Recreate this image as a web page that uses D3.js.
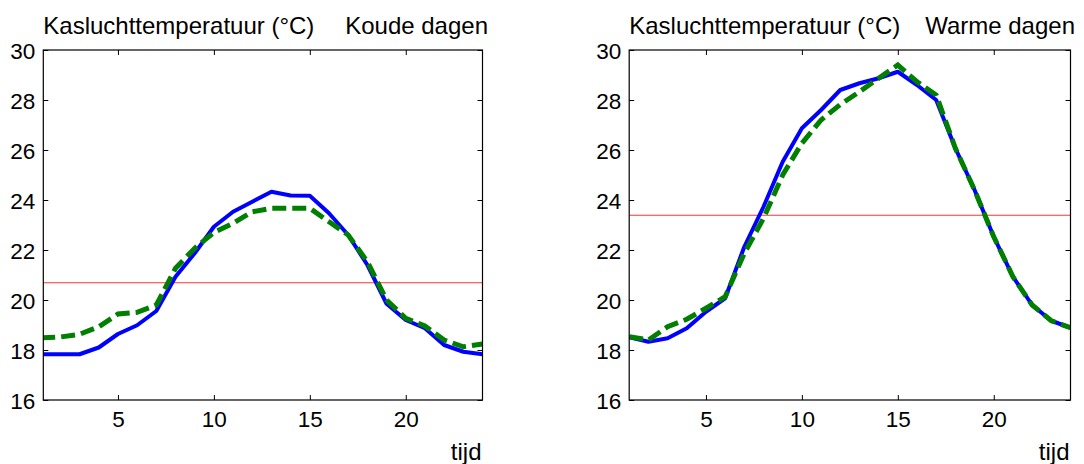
<!DOCTYPE html>
<html>
<head>
<meta charset="utf-8">
<script src="https://cdn.jsdelivr.net/npm/d3@7"></script>
<style>
  html, body { margin: 0; padding: 0; background: #fff; }
  svg text { font-family: "Liberation Sans", Arial, sans-serif; fill: #000; }
</style>
</head>
<body>
<svg id="chart" width="1084" height="464"></svg>
<script>
// ---- data ----
const hours = d3.range(1, 25);
const coldBlue  = [17.83, 17.83, 17.83, 18.1, 18.64, 18.99, 19.56, 20.93, 21.87, 22.93, 23.53, 23.93, 24.33, 24.18, 24.17, 23.47, 22.6, 21.4, 19.85, 19.2, 18.87, 18.2, 17.93, 17.83];
const coldGreen = [18.49, 18.52, 18.63, 18.93, 19.44, 19.51, 19.8, 21.27, 22.07, 22.7, 23.07, 23.53, 23.67, 23.67, 23.67, 23.13, 22.6, 21.53, 20.0, 19.27, 18.96, 18.4, 18.13, 18.24];
const coldRef = 20.69;
const warmBlue  = [18.51, 18.33, 18.47, 18.87, 19.53, 20.07, 22.13, 23.73, 25.53, 26.87, 27.6, 28.4, 28.67, 28.87, 29.13, 28.6, 28.0, 26.07, 24.4, 22.53, 20.93, 19.8, 19.17, 18.89];
const warmGreen = [18.53, 18.4, 18.93, 19.23, 19.67, 20.13, 21.87, 23.27, 25.0, 26.27, 27.2, 27.82, 28.33, 28.87, 29.4, 28.73, 28.2, 26.07, 24.4, 22.53, 20.93, 19.8, 19.17, 18.89];
const warmRef = 23.39;
const yTicks = [16, 18, 20, 22, 24, 26, 28, 30];
const xTicks = [5, 10, 15, 20];
const yTitle = "Kasluchttemperatuur (°C)";
const xTitle = "tijd";
const panelTitles = ["Koude dagen", "Warme dagen"];

const svg = d3.select("#chart");
svg.append("rect").attr("width", 1084).attr("height", 464).attr("fill", "#fff");

const panels = [
  { left: 43.3, right: 482.5, xDomain: [1.11, 24], blue: coldBlue, green: coldGreen, ref: coldRef, title: panelTitles[0], titleRight: 488 },
  { left: 629.2, right: 1070.5, xDomain: [1, 24], blue: warmBlue, green: warmGreen, ref: warmRef, title: panelTitles[1], titleRight: 1075 }
];
const plotTop = 50, plotBottom = 400;
const tickFont = "22.5px", labelFont = "24px";

panels.forEach((p, i) => {
  const x = d3.scaleLinear().domain(p.xDomain).range([p.left, p.right]);
  const y = d3.scaleLinear().domain([16, 30]).range([plotBottom, plotTop]);
  const g = svg.append("g");

  const clipId = "clip" + i;
  svg.append("clipPath").attr("id", clipId)
    .append("rect").attr("x", p.left).attr("y", plotTop).attr("width", p.right - p.left).attr("height", plotBottom - plotTop);

  const plot = g.append("g").attr("clip-path", `url(#${clipId})`);

  // reference line
  plot.append("line")
    .attr("x1", p.left).attr("x2", p.right)
    .attr("y1", y(p.ref)).attr("y2", y(p.ref))
    .attr("stroke", "#ff3333").attr("stroke-width", 1.2);

  const line = d3.line().x((d, k) => x(hours[k])).y(d => y(d));

  plot.append("path").datum(p.blue)
    .attr("d", line).attr("fill", "none")
    .attr("stroke", "#0000ff").attr("stroke-width", 4).attr("stroke-linejoin", "round");

  plot.append("path").datum(p.green)
    .attr("d", line).attr("fill", "none")
    .attr("stroke", "#007f00").attr("stroke-width", 5)
    .attr("stroke-dasharray", "14,6");

  // axes
  const fmtNone = () => "";
  const axB = g.append("g").attr("transform", `translate(0,${plotBottom})`)
    .call(d3.axisBottom(x).tickValues(xTicks).tickSize(-5).tickPadding(11));
  const axT = g.append("g").attr("transform", `translate(0,${plotTop})`)
    .call(d3.axisTop(x).tickValues(xTicks).tickSize(-5).tickFormat(fmtNone));
  const axL = g.append("g").attr("transform", `translate(${p.left},0)`)
    .call(d3.axisLeft(y).tickValues(yTicks).tickSize(-5).tickPadding(8));
  const axR = g.append("g").attr("transform", `translate(${p.right},0)`)
    .call(d3.axisRight(y).tickValues(yTicks).tickSize(-5).tickFormat(fmtNone));
  [axB, axT, axL, axR].forEach(a => {
    a.select(".domain").remove();
    a.selectAll("line").attr("stroke", "#000").attr("stroke-width", 1);
    a.selectAll("text").style("font-size", tickFont).style("font-family", "'Liberation Sans', Arial, sans-serif").attr("fill", "#000");
  });
  axL.selectAll("text").attr("dy", "0.36em");

  g.append("rect").attr("x", p.left).attr("y", plotTop)
    .attr("width", p.right - p.left).attr("height", plotBottom - plotTop)
    .attr("fill", "none").attr("stroke", "#000").attr("stroke-width", 1.2);

  g.append("text").attr("x", p.left).attr("y", 34)
    .style("font-size", labelFont).text(yTitle);
  g.append("text").attr("x", p.titleRight).attr("y", 34).attr("text-anchor", "end")
    .style("font-size", labelFont).text(p.title);
  g.append("text").attr("x", p.right - 1).attr("y", 460).attr("text-anchor", "end")
    .style("font-size", labelFont).text(xTitle);
});
</script>
</body>
</html>
